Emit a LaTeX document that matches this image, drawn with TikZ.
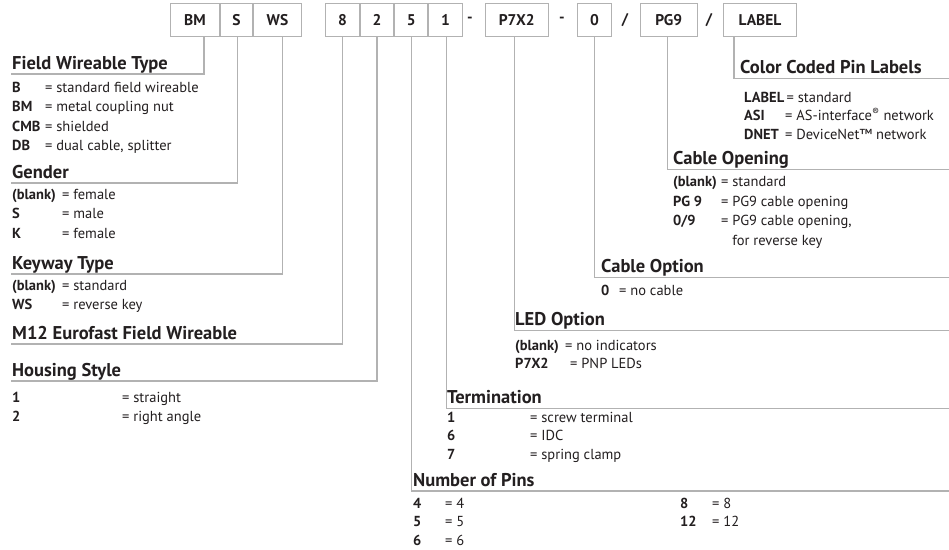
\documentclass[tikz,border=0pt]{standalone}
\usepackage{fontspec}
\setmainfont{PT Sans}
\usetikzlibrary{positioning}

\definecolor{linegray}{RGB}{178,178,178}
\definecolor{ink}{RGB}{35,31,32}
\newcommand{\kw}[2]{\makebox[#1pt][l]{\textbf{#2}}}

\begin{document}
\begin{tikzpicture}[
    x=1pt, y=-1pt,
    code/.style={draw=linegray, line width=1pt, minimum height=33.4pt, inner sep=0pt, text=ink, font=\fontsize{15.5}{18}\selectfont\bfseries},
    sep/.style={inner sep=0pt, text=ink, font=\fontsize{15.5}{18}\selectfont\bfseries},
    head/.style={anchor=west, inner sep=0pt, text height=13pt, text depth=0pt, text=ink, font=\fontsize{18.5}{22}\selectfont\bfseries},
    item/.style={anchor=west, inner sep=0pt, text height=10pt, text depth=0pt, text=ink, font=\fontsize{14.5}{17}\selectfont},
    wire/.style={draw=linegray, line width=1.2pt}
  ]
  \fill[white] (0,0) rectangle (949,549);
  \useasboundingbox (0,0) rectangle (949,549);

  % part number boxes
  \node[code, minimum width=48.6pt] (bm) at (195,20) {BM};
  \node[code, minimum width=32.4pt, right=0pt of bm] (gender) {S};
  \node[code, minimum width=47.6pt, right=0pt of gender] (keyway) {WS};
  \node[code, minimum width=33.3pt] (series) at (342.6,20) {8};
  \node[code, minimum width=33.3pt, right=0pt of series] (housing) {2};
  \node[code, minimum width=33.3pt, right=0pt of housing] (pins) {5};
  \node[code, minimum width=33.3pt, right=0pt of pins] (term) {1};
  \node[sep] (dash1) at (470,20) {-};
  \node[code, minimum width=63.3pt] (led) at (516.7,20) {P7X2};
  \node[sep] (dash2) at (562,20) {-};
  \node[code, minimum width=34.4pt] (cable) at (594.5,20) {0};
  \node[sep] (slash1) at (625,20) {/};
  \node[code, minimum width=57.3pt] (opening) at (668.7,20) {PG9};
  \node[sep] (slash2) at (709,20) {/};
  \node[code, minimum width=72.7pt] (pinlabel) at (760,20) {LABEL};

  % left column
  \node[head] (typehd) at (12,62.5) {Field Wireable Type};
  \node[item] (type1) at (12,87) {\kw{33}{B}= standard field wireable};
  \node[item] (type2) at (12,106.5) {\kw{33}{BM}= metal coupling nut};
  \node[item] (type3) at (12,126) {\kw{33}{CMB}= shielded};
  \node[item] (type4) at (12,145.5) {\kw{33}{DB}= dual cable, splitter};

  \node[head] (genderhd) at (12,171.5) {Gender};
  \node[item] (gender1) at (12,194) {\kw{50}{(blank)}= female};
  \node[item] (gender2) at (12,213.5) {\kw{50}{S}= male};
  \node[item] (gender3) at (12,233) {\kw{50}{K}= female};

  \node[head] (keywayhd) at (12,262.5) {Keyway Type};
  \node[item] (keyway1) at (12,285) {\kw{50}{(blank)}= standard};
  \node[item] (keyway2) at (12,304.5) {\kw{50}{WS}= reverse key};

  \node[head] (serieshd) at (12,332.5) {M12 Eurofast Field Wireable};

  \node[head] (housinghd) at (12,369.5) {Housing Style};
  \node[item] (housing1) at (12,397) {\kw{110}{1}= straight};
  \node[item] (housing2) at (12,416.5) {\kw{110}{2}= right angle};

  % right column
  \node[head] (pinlabelhd) at (740,67) {Color Coded Pin Labels};
  \node[item] (pinlabel1) at (744,97) {\textbf{LABEL}\,= standard};
  \node[item] (pinlabel2) at (744,115.5) {\kw{41}{ASI}= AS-interface\textsuperscript{®} network};
  \node[item] (pinlabel3) at (744,134) {\kw{41}{DNET}= DeviceNet™ network};

  \node[head] (openinghd) at (673,158) {Cable Opening};
  \node[item] (opening1) at (673,181.5) {\kw{48}{(blank)}= standard};
  \node[item] (opening2) at (673,201) {\kw{48}{PG 9}= PG9 cable opening};
  \node[item] (opening3) at (673,220.5) {\kw{48}{0/9}= PG9 cable opening,};
  \node[item] (opening4) at (673,240) {\kw{48}{}\phantom{= }for reverse key};

  \node[head] (cablehd) at (601,266) {Cable Option};
  \node[item] (cable1) at (601,290) {\kw{18}{0}= no cable};

  \node[head] (ledhd) at (515,319) {LED Option};
  \node[item] (led1) at (515,345.5) {\kw{50}{(blank)}= no indicators};
  \node[item] (led2) at (515,363) {\kw{55}{P7X2}= PNP LEDs};

  \node[head] (termhd) at (447,397) {Termination};
  \node[item] (term1) at (447,417) {\kw{83}{1}= screw terminal};
  \node[item] (term2) at (447,435.5) {\kw{83}{6}= IDC};
  \node[item] (term3) at (447,454) {\kw{83}{7}= spring clamp};

  \node[head] (pinshd) at (413,479.5) {Number of Pins};
  \node[item] (pins1) at (413,503) {\kw{32}{4}= 4};
  \node[item] (pins2) at (413,521.5) {\kw{32}{5}= 5};
  \node[item] (pins3) at (413,540) {\kw{32}{6}= 6};
  \node[item] (pins4) at (680,503) {\kw{32}{8}= 8};
  \node[item] (pins5) at (680,521.5) {\kw{32}{12}= 12};

  % leader lines
  \coordinate (typeEnd) at (11,74);
  \coordinate (genderEnd) at (11,183);
  \coordinate (keywayEnd) at (11,274);
  \coordinate (seriesEnd) at (11,344);
  \coordinate (housingEnd) at (11,381);
  \coordinate (pinsEnd) at (949,491);
  \coordinate (termEnd) at (949,408.3);
  \coordinate (ledEnd) at (949,330.7);
  \coordinate (cableEnd) at (949,277.7);
  \coordinate (openingEnd) at (949,169.3);
  \coordinate (pinlabelEnd) at (949,78.3);

  \draw[wire] ([xshift=9pt]bm.south) |- (typeEnd);
  \draw[wire] ([xshift=1pt]gender.south) |- (genderEnd);
  \draw[wire] ([xshift=5pt]keyway.south) |- (keywayEnd);
  \draw[wire] (series.south) |- (seriesEnd);
  \draw[wire] (housing.south) |- (housingEnd);
  \draw[wire] (pins.south) |- (pinsEnd);
  \draw[wire] ([xshift=1pt]term.south) |- (termEnd);
  \draw[wire] ([xshift=-2pt]led.south) |- (ledEnd);
  \draw[wire] (cable.south) |- (cableEnd);
  \draw[wire] ([xshift=-1pt]opening.south) |- (openingEnd);
  \draw[wire] ([xshift=-26pt]pinlabel.south) |- (pinlabelEnd);
\end{tikzpicture}
\end{document}
